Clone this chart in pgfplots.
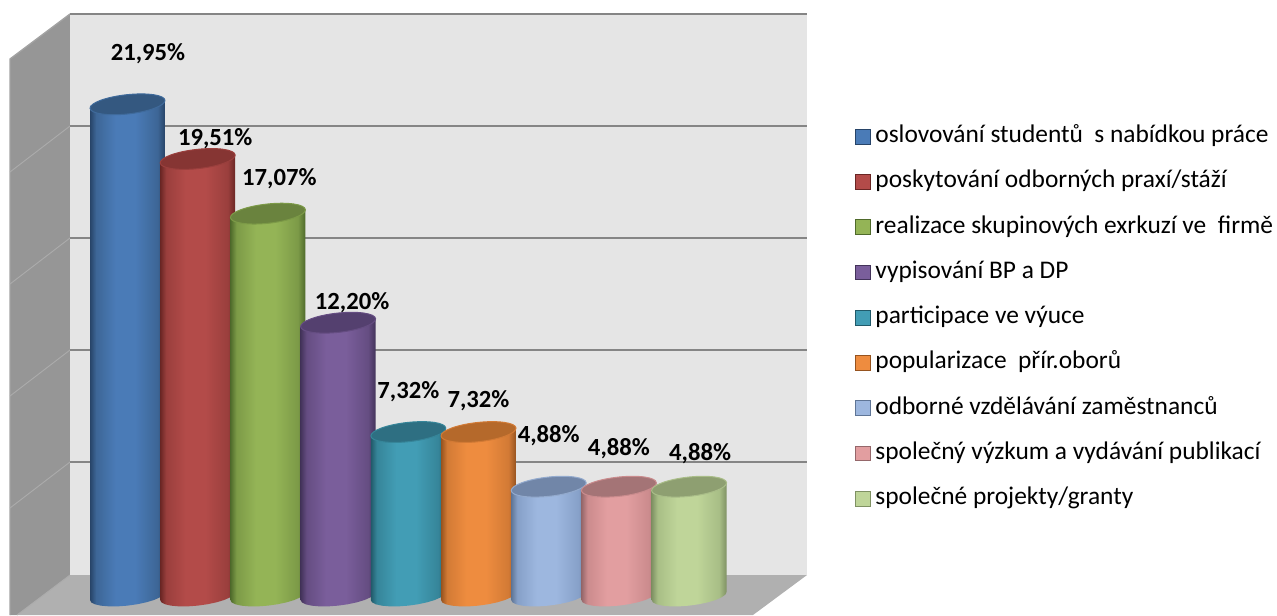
\documentclass[border=0pt]{standalone}
\usepackage{fontspec}
\setmainfont{Carlito}
\usepackage{pgfplots}
\pgfplotsset{compat=1.18}

% name, centre, mid, edge, top face, rim
\newcommand\mkcyl[6]{%
  \definecolor{c#1}{HTML}{#2}\definecolor{m#1}{HTML}{#3}\definecolor{e#1}{HTML}{#4}%
  \definecolor{top#1}{HTML}{#5}\definecolor{rim#1}{HTML}{#6}%
  \pgfdeclarehorizontalshading{shade#1}{100bp}{%
    color(0bp)=(e#1); color(25bp)=(e#1); color(29bp)=(m#1); color(42bp)=(c#1);
    color(55bp)=(c#1); color(70bp)=(m#1); color(75bp)=(e#1); color(100bp)=(e#1)}%
}
\pgfdeclareplotmark{cyltop}{%
  \pgfpathellipse{\pgfpointorigin}{\pgfqpoint{28.1pt}{3pt}}{\pgfqpoint{-0.5pt}{7.2pt}}%
  \pgfusepathqfillstroke}

\mkcyl{a}{4A7BB7}{3D6696}{274468}{345880}{3F6A9B}
\mkcyl{b}{B34B49}{9A3F3D}{6A2624}{863533}{9A3F3D}
\mkcyl{c}{94B456}{7C9A47}{4F6A2B}{6A833E}{7C9A47}
\mkcyl{d}{7A5E9B}{654D82}{43335A}{54406F}{654D82}
\mkcyl{e}{429DB5}{368599}{215A6A}{2E6F82}{368599}
\mkcyl{f}{EE8C3F}{D27A35}{96531F}{B5692B}{D27A35}
\mkcyl{g}{9DB7DF}{86A0C8}{5F7596}{7186A8}{93AACD}
\mkcyl{h}{E29EA0}{CB8B8D}{95676A}{A47476}{C98B8D}
\mkcyl{i}{BFD599}{A8BE86}{7F9163}{8E9F71}{A9BD88}

% x, value, colour name: body with its rounded foot, then the top face
\newcommand\cyl[3]{%
  \pgfmathsetmacro\yul{#2-0.18}\pgfmathsetmacro\yur{#2+0.18}%
  \edef\tmp{\noexpand\addplot[forget plot,draw=none,shading=shade#3,x filter/.expression={x+#1}]
    coordinates {(-0.534,-0.18) (-0.516,-0.285) (-0.462,-0.371) (-0.378,-0.431) (-0.267,-0.462)
      (-0.138,-0.462) (0,-0.43) (0.138,-0.368) (0.267,-0.282) (0.378,-0.177) (0.462,-0.059)
      (0.516,0.063) (0.534,0.18) (0.534,\yur) (-0.534,\yul)} --cycle;}\tmp
  \addplot[forget plot,only marks,mark=cyltop,mark options={fill=top#3,draw=rim#3,line width=0.75pt}]
    coordinates {(#1,#2)};
}
% x, value, dx, dy (px), text
\newcommand\lab[5]{\node[font=\fontsize{18.5pt}{20pt}\selectfont\bfseries,inner sep=0pt]
  at (axis cs:#1,#2) [xshift=#3*0.75pt,yshift=#4*0.75pt] {#5};}
\newcommand\leg[3]{%
  \addlegendimage{legend image code/.code={\draw[fill=c#1,draw=e#1,line width=0.6pt] (0pt,-1pt) rectangle (11pt,10pt);}}
  \addlegendentry{#3}}

\pgfplotsset{base/.style={hide axis,scale only axis,width=957.75pt,height=461.25pt,
  at={(0,0)},anchor=south west,clip=false}}

\begin{document}
\begin{tikzpicture}
\path[use as bounding box] (0,0) rectangle (957.75pt,461.25pt);
% walls and floor, in pixels
\begin{axis}[base,xmin=0,xmax=1277,ymin=0,ymax=615,y dir=reverse]
\addplot[fill=black!41,draw=none] coordinates {(10,59) (70,14) (70,575) (17,615) (10,615)} --cycle;
\addplot[fill=black!10,draw=none] coordinates {(70,14) (807,14) (807,575) (70,575)} --cycle;
\addplot[fill=black!31,draw=none] coordinates {(70,575) (807,575) (753,615) (17,615)} --cycle;
\addplot[black!36,line width=1pt] coordinates {(10,615) (10,59) (70,14)};
\addplot[black!33,line width=0.7pt] coordinates {(10,172) (70,126)};
\addplot[black!33,line width=0.7pt] coordinates {(10,284) (70,238)};
\addplot[black!33,line width=0.7pt] coordinates {(10,396) (70,350)};
\addplot[black!33,line width=0.7pt] coordinates {(10,508) (70,462)};
\addplot[black!33,line width=0.7pt] coordinates {(17,615) (70,575)};
\addplot[black!48,line width=1.3pt] coordinates {(70,14) (807,14)};
\addplot[black!48,line width=1.3pt] coordinates {(70,126) (807,126)};
\addplot[black!48,line width=1.3pt] coordinates {(70,238) (807,238)};
\addplot[black!48,line width=1.3pt] coordinates {(70,350) (807,350)};
\addplot[black!48,line width=1.3pt] coordinates {(70,462) (807,462)};
\end{axis}
% the bars
\begin{axis}[base,xmin=-1.816,xmax=16.374,ymin=-0.848,ymax=26.607,
  legend style={at={(rel axis cs:0.6695,0.794)},anchor=north west,draw=none,fill=none,
    inner sep=0pt,outer sep=0pt,row sep=17.94pt,
    font=\fontsize{19.05pt}{20pt}\selectfont,
    nodes={inner sep=0pt,text height=12pt,text depth=4pt,anchor=base west},
    /tikz/every odd column/.append style={column sep=3.75pt}},
  legend cell align=left]
\cyl{0}{21.95}{a}
\cyl{1}{19.51}{b}
\cyl{2}{17.07}{c}
\cyl{3}{12.20}{d}
\cyl{4}{7.32}{e}
\cyl{5}{7.32}{f}
\cyl{6}{4.88}{g}
\cyl{7}{4.88}{h}
\cyl{8}{4.88}{i}
\lab{0}{21.95}{20.5}{51}{21,95\%}
\lab{1}{19.51}{17.5}{20}{19,51\%}
\lab{2}{17.07}{11.5}{35}{17,07\%}
\lab{3}{12.20}{14}{20}{12,20\%}
\lab{4}{7.32}{0}{40}{7,32\%}
\lab{5}{7.32}{0}{31}{7,32\%}
\lab{6}{4.88}{0}{51}{4,88\%}
\lab{7}{4.88}{0}{38}{4,88\%}
\lab{8}{4.88}{11}{33}{4,88\%}
\leg{a}{}{oslovování studentů\ \ s nabídkou práce}
\leg{b}{}{poskytování odborných praxí/stáží}
\leg{c}{}{realizace skupinových exrkuzí ve\ \ firmě}
\leg{d}{}{vypisování BP a DP}
\leg{e}{}{participace ve výuce}
\leg{f}{}{popularizace\ \ přír.oborů}
\leg{g}{}{odborné vzdělávání zaměstnanců}
\leg{h}{}{společný výzkum a vydávání publikací}
\leg{i}{}{společné projekty/granty}
\end{axis}
\end{tikzpicture}
\end{document}
